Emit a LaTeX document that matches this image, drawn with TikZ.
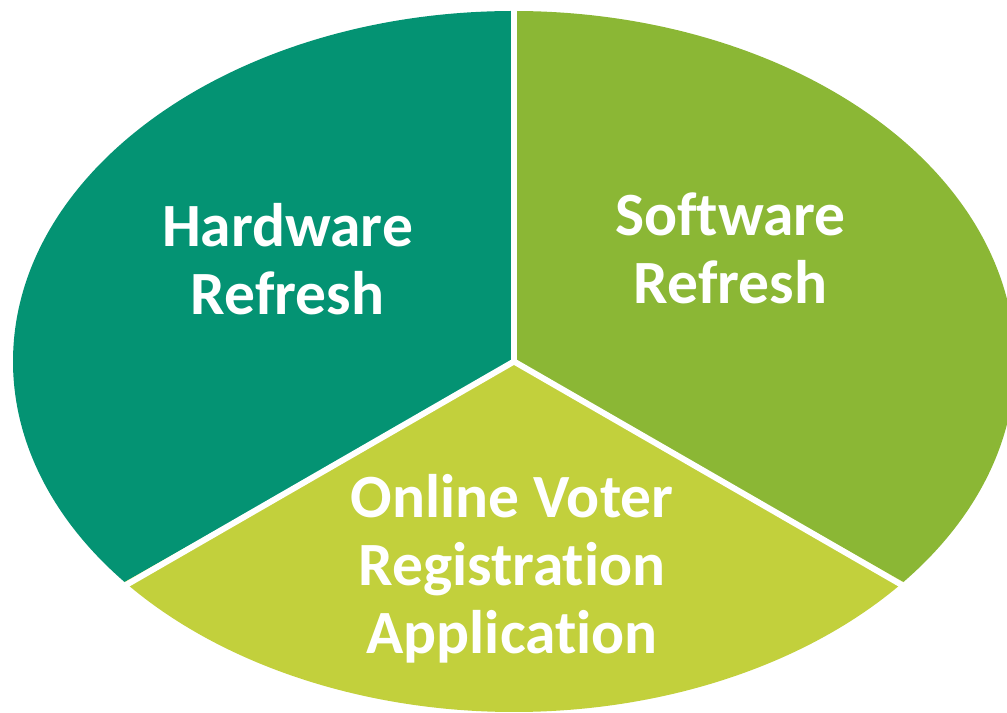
\documentclass[tikz,border=0pt]{standalone}
\usepackage{fontspec}
\setmainfont{Carlito}[Ligatures={NoCommon, NoContextual}]
\usepackage{xcolor}
\usetikzlibrary{positioning}
\definecolor{hardware}{RGB}{4, 147, 115}
\definecolor{software}{RGB}{139, 183, 53}
\definecolor{online}{RGB}{194, 208, 60}

\begin{document}
\begin{tikzpicture}[
    slice/.style={draw=none},
    divider/.style={draw=white, line width=1.7pt},
    slicetext/.style={text=white, align=center, inner sep=0pt,
                      font=\fontsize{17.5}{19.4}\selectfont\bfseries}
]
\useasboundingbox (0, 0) rectangle (10.07, 7.13);
\clip (0, 0) rectangle (10.07, 7.13);

% Pie centre
\coordinate (ctr) at (5.14, 3.515);

% Slices
\fill[slice, hardware] (ctr) -- ++(90:5.01 and 3.505) arc[start angle=90, end angle=219, x radius=5.01, y radius=3.505] -- cycle;
\fill[slice, software] (ctr) -- ++(-39:5.01 and 3.505) arc[start angle=-39, end angle=90, x radius=5.01, y radius=3.505] -- cycle;
\fill[slice, online] (ctr) -- ++(219:5.01 and 3.505) arc[start angle=219, end angle=321, x radius=5.01, y radius=3.505] -- cycle;

% White gaps between slices
\draw[divider] (ctr) -- ++(90:5.2 and 3.7);
\draw[divider] (ctr) -- ++(219:5.2 and 3.7);
\draw[divider] (ctr) -- ++(321:5.2 and 3.7);

% Labels
\node[slicetext] (hw) at (2.875, 4.54) {Hardware\\Refresh};
\node[slicetext] (sw) at (7.305, 4.65) {Software\\Refresh};
\node[slicetext] (ovr) at (5.12, 1.445) {Online Voter\\Registration\\Application};

\end{tikzpicture}
\end{document}
